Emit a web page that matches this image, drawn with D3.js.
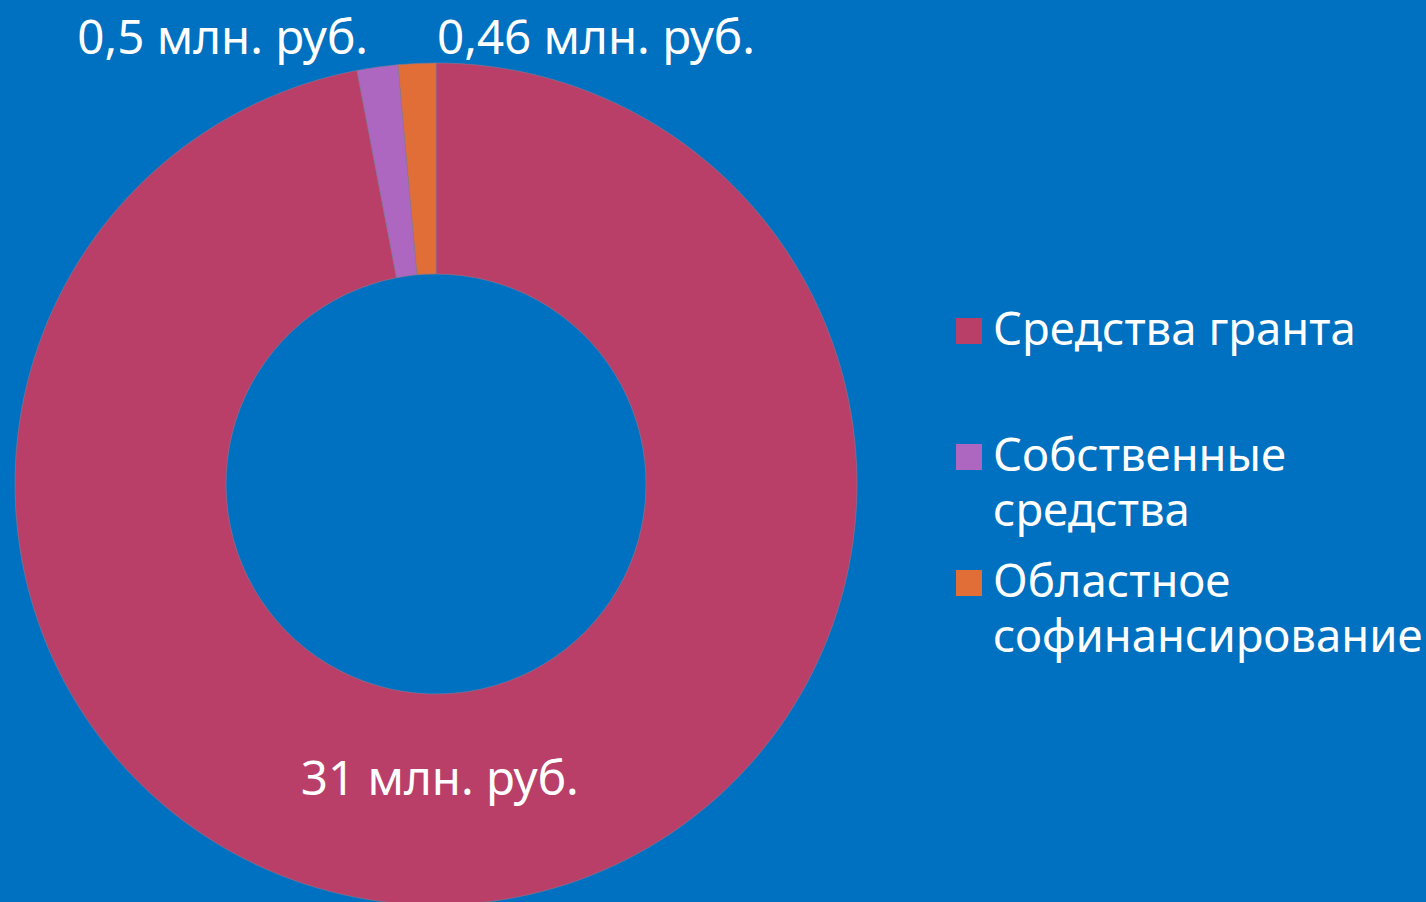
<!DOCTYPE html>
<html>
<head>
<meta charset="utf-8">
<script src="https://cdn.jsdelivr.net/npm/d3@7"></script>
<style>
  html, body { margin: 0; padding: 0; background: #0070c0; }
  svg { display: block; }
</style>
</head>
<body>
<div id="chart"></div>
<script>
// data
const categories = ["Средства гранта", "Собственные средства", "Областное софинансирование"];
const legendLines = [["Средства гранта"], ["Собственные", "средства"], ["Областное", "софинансирование"]];
const values = [31, 0.5, 0.46];
const valueLabels = ["31 млн. руб.", "0,5 млн. руб.", "0,46 млн. руб."];
const colors = ["#b93e68", "#ad67c0", "#e06e36"];

let width = 1426;
let height = 902;
let center = { x: 436, y: 484 };
let outerR = 421;
let innerR = 210;
let fontFamily = "'Noto Sans', 'Open Sans', sans-serif";
let labelSize = 47.5;
let legendSize = 45.5;

let svg = d3.select("#chart").append("svg")
    .attr("width", width)
    .attr("height", height);

svg.append("rect")
    .attr("width", width)
    .attr("height", height)
    .attr("fill", "#0070c0");

let g = svg.append("g")
    .attr("transform", `translate(${center.x}, ${center.y})`);

let pie = d3.pie().sort(null).value(d => d);
let arcs = pie(values);

let arc = d3.arc()
    .innerRadius(innerR)
    .outerRadius(outerR);

g.selectAll(".slice")
    .data(arcs)
  .enter().append("path")
    .attr("class", "slice")
    .attr("d", arc)
    .attr("fill", (d, i) => colors[i])
    .attr("stroke", "#8a7a92")
    .attr("stroke-width", 0.6);

// value labels
let pointAt = (angle, r) => [r * Math.sin(angle), -r * Math.cos(angle)];

arcs.forEach((d, i) => {
    let t = g.append("text")
        .attr("fill", "white")
        .style("font-family", fontFamily)
        .style("font-size", labelSize + "px")
        .text(valueLabels[i]);
    if (i === 0) {
        // inside the big slice, near the bottom
        let mid = (d.startAngle + d.endAngle) / 2;
        let p = pointAt(mid, (innerR + outerR) / 2);
        t.attr("x", p[0] - 26)
            .attr("y", p[1] - 3)
            .attr("text-anchor", "middle");
    } else if (i === 1) {
        let p = pointAt(d.startAngle, outerR);
        t.attr("x", p[0] + 11)
            .attr("y", -outerR - 9)
            .attr("text-anchor", "end");
    } else {
        let p = pointAt(d.endAngle, outerR);
        t.attr("x", p[0] + 1)
            .attr("y", -outerR - 9)
            .attr("text-anchor", "start");
    }
});

// legend
let legend = svg.append("g")
    .attr("transform", "translate(956, 345)");

let rowStep = 126;
let lineStep = 55;

let item = legend.selectAll(".legend-item")
    .data(categories)
  .enter().append("g")
    .attr("class", "legend-item")
    .attr("transform", (d, i) => `translate(0, ${i * rowStep})`);

item.append("rect")
    .attr("x", 0)
    .attr("y", -27)
    .attr("width", 26)
    .attr("height", 26)
    .attr("fill", (d, i) => colors[i]);

item.append("text")
    .attr("fill", "white")
    .style("font-family", fontFamily)
    .style("font-size", legendSize + "px")
    .each(function(d, i) {
        let text = d3.select(this);
        legendLines[i].forEach((line, j) => {
            text.append("tspan")
                .attr("x", 37)
                .attr("y", j * lineStep)
                .text(line);
        });
    });
</script>
</body>
</html>
